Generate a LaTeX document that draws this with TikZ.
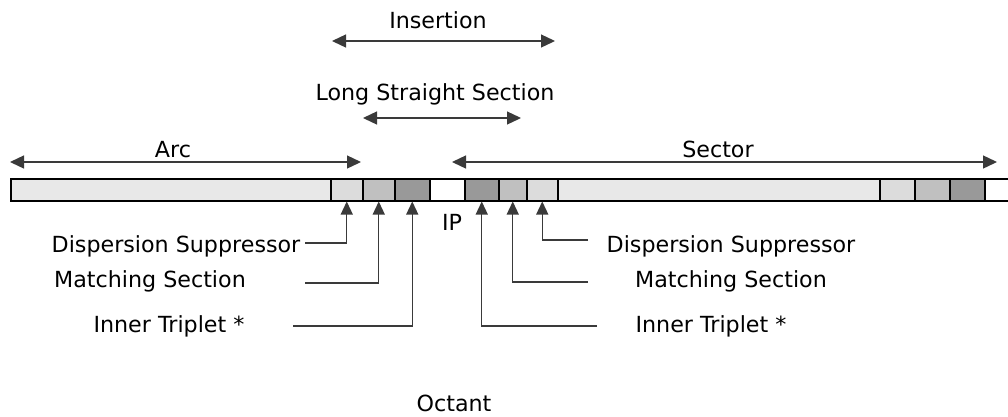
\documentclass[tikz,border=0pt]{standalone}
\usepackage{fontspec}
\setmainfont{DejaVu Sans}
\usetikzlibrary{arrows.meta}
\definecolor{arcc}{HTML}{E8E8E8}
\definecolor{dsc}{HTML}{DCDCDC}
\definecolor{msc}{HTML}{C0C0C0}
\definecolor{itc}{HTML}{999999}
\definecolor{linec}{HTML}{3A3A3A}
\tikzset{
  seg/.style={draw=black,line width=1.5pt,rectangle,inner sep=0pt,anchor=north west,minimum height=22pt},
  lbl/.style={font=\fontsize{22.2}{26}\selectfont,anchor=base,inner sep=0pt},
  dim/.style={draw=linec,line width=1.3pt,{Triangle[length=14pt,width=13pt]}-{Triangle[length=14pt,width=13pt]}},
  conn/.style={draw=linec,line width=1.3pt,-{Triangle[length=13pt,width=12pt]}}
}
\begin{document}
\begin{tikzpicture}[x=1pt,y=-1pt]
\useasboundingbox (0,0) rectangle (1008,416);
\clip (0,0) rectangle (1008,416);
% bar segments
\node[seg,fill=arcc,minimum width=320pt] (arc1) at (10,178) {};
\node[seg,fill=dsc,minimum width=32pt] (ds1) at (330,178) {};
\node[seg,fill=msc,minimum width=32pt] (ms1) at (362,178) {};
\node[seg,fill=itc,minimum width=35pt] (it1) at (394,178) {};
\node[seg,fill=white,minimum width=35pt] (ip) at (429,178) {};
\node[seg,fill=itc,minimum width=34pt] (it2) at (464,178) {};
\node[seg,fill=msc,minimum width=28pt] (ms2) at (498,178) {};
\node[seg,fill=dsc,minimum width=31pt] (ds2) at (526,178) {};
\node[seg,fill=arcc,minimum width=322pt] (arc2) at (557,178) {};
\node[seg,fill=dsc,minimum width=35pt] (ds3) at (879,178) {};
\node[seg,fill=msc,minimum width=35pt] (ms3) at (914,178) {};
\node[seg,fill=itc,minimum width=35pt] (it3) at (949,178) {};
\node[seg,fill=white,minimum width=40pt] (end3) at (984,178) {};
% top labels
\node[lbl] (ins) at (438,28) {Insertion};
\node[lbl] (lss) at (435,100) {Long Straight Section};
\node[lbl] (arcl) at (173,157) {Arc};
\node[lbl] (secl) at (718,157) {Sector};
\node[lbl] (ipl) at (452,230) {IP};
\node[lbl] (oct) at (454,411) {Octant};
% dimension arrows
\coordinate (insL) at (332,41); \coordinate (insR) at (555,41);
\coordinate (lssL) at (363,118); \coordinate (lssR) at (521,118);
\coordinate (arcL) at (10,162); \coordinate (arcR) at (361,162);
\coordinate (secL) at (452,162); \coordinate (secR) at (997,162);
\draw[dim] (insL) -- (insR);
\draw[dim] (lssL) -- (lssR);
\draw[dim] (arcL) -- (arcR);
\draw[dim] (secL) -- (secR);
% left labels
\node[lbl] (lds) at (176,252) {Dispersion Suppressor};
\node[lbl] (lms) at (150,287) {Matching Section};
\node[lbl] (lit) at (169,332) {Inner Triplet *};
\coordinate (lds0) at (305,243);
\coordinate (lms0) at (305,283);
\coordinate (lit0) at (293,326);
\draw[conn] (lds0) -| (ds1.south);
\draw[conn] (lms0) -| (ms1.south);
\draw[conn] (lit0) -| (it1.south);
% right labels
\node[lbl] (rds) at (731,252) {Dispersion Suppressor};
\node[lbl] (rms) at (731,287) {Matching Section};
\node[lbl] (rit) at (711,332) {Inner Triplet *};
\coordinate (rds0) at (588,240);
\coordinate (rms0) at (588,282);
\coordinate (rit0) at (597,326);
\draw[conn] (rds0) -| (ds2.south);
\draw[conn] (rms0) -| (ms2.south);
\draw[conn] (rit0) -| (it2.south);
\end{tikzpicture}
\end{document}
